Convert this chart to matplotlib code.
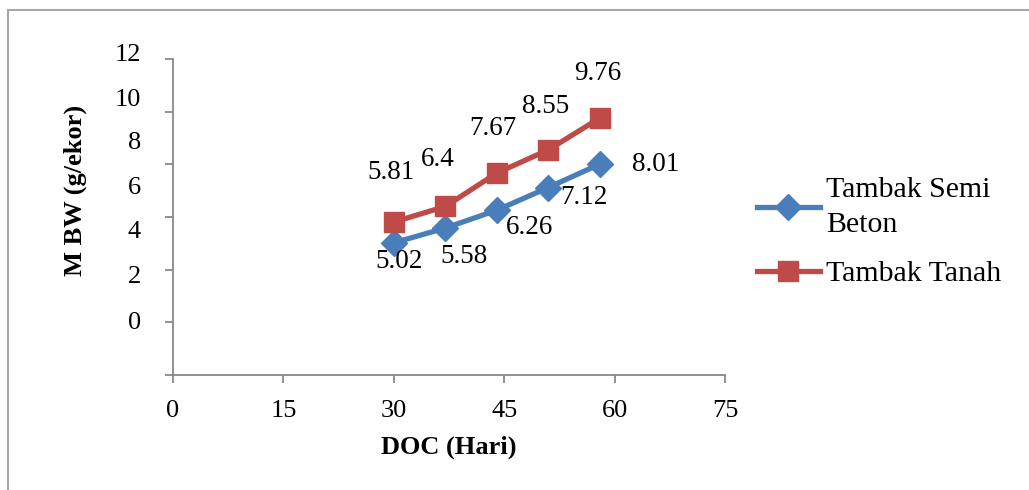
import matplotlib
matplotlib.use("Agg")
import matplotlib.pyplot as plt
from matplotlib.patches import Rectangle

doc = [30, 37, 44, 51, 58]
semi_beton = [5.02, 5.58, 6.26, 7.12, 8.01]
tanah = [5.81, 6.4, 7.67, 8.55, 9.76]
x_ticks = [0, 15, 30, 45, 60, 75]
y_tick_labels = ["12", "10", "8", "6", "4", "2", "0"]

plt.rcParams['font.family'] = ['Liberation Serif', 'DejaVu Serif']

W, H = 1029, 490
fig = plt.figure(figsize=(W / 100, H / 100), dpi=100)

# outer frame
fig.patches.append(Rectangle((8 / W, -0.05), 1.1, 1 - 10 / H + 0.05,
                             transform=fig.transFigure, fill=False,
                             edgecolor='#a6a6a6', linewidth=1.5))

ax = fig.add_axes([173 / W, 1 - 375 / H, (725 - 173) / W, (375 - 59) / H])
ax.set_xlim(0, 75)
ax.set_ylim(0, 12)

blue = '#4a7ebb'
red = '#be4b48'
ax.plot(doc, semi_beton, color=blue, lw=3.8, marker='D', ms=13,
        label='Tambak Semi\nBeton', zorder=3)
ax.plot(doc, tanah, color=red, lw=3.8, marker='s', ms=15,
        label='Tambak Tanah', zorder=3)

sb_off = [(5, -19), (19, -28), (33, -17), (36, -10), (56, 0)]
tn_off = [(-3, 50), (-8, 47), (-4, 45), (-3, 43), (-2, 44)]
for xv, yv, off in zip(doc, semi_beton, sb_off):
    ax.annotate(f"{yv:g}", (xv, yv), xytext=off, textcoords='offset pixels',
                ha='center', va='center', fontsize=19.5)
for xv, yv, off in zip(doc, tanah, tn_off):
    ax.annotate(f"{yv:g}", (xv, yv), xytext=off, textcoords='offset pixels',
                ha='center', va='center', fontsize=19.5)

for s in ['top', 'right']:
    ax.spines[s].set_visible(False)
for s in ['left', 'bottom']:
    ax.spines[s].set_color('#888888')
    ax.spines[s].set_linewidth(1.3)

ax.set_xticks(x_ticks)
ax.set_xticklabels([str(v) for v in x_ticks], fontsize=19)
ax.tick_params(axis='x', direction='out', length=6, width=1.3,
               color='#888888', pad=12)

# real tick marks on y (0..12 step 2), labels drawn offset as in reference
ax.set_yticks(range(0, 13, 2))
ax.set_yticklabels([])
ax.tick_params(axis='y', direction='out', length=6, width=1.3, color='#888888')
label_px = [55, 100, 143, 188, 232, 277, 323]
for lbl, py in zip(y_tick_labels, label_px):
    fig.text(141 / W, 1 - py / H, lbl, ha='right', va='center', fontsize=19)

fig.text(449 / W, 1 - 447 / H, 'DOC (Hari)', ha='center', va='center',
         fontsize=19, fontweight='bold')
fig.text(75 / W, 1 - 190 / H, 'M BW (g/ekor)', ha='center', va='center',
         fontsize=19, fontweight='bold', rotation=90)

leg = fig.legend(loc='upper left', bbox_to_anchor=(757 / W, 1 - 177 / H),
                 frameon=False, fontsize=21.5, handlelength=2.1,
                 labelspacing=0.75, handletextpad=0.2, borderpad=0,
                 borderaxespad=0)
leg.get_texts()[0].set_linespacing(1.45)

fig.savefig('out.png', dpi=100)
